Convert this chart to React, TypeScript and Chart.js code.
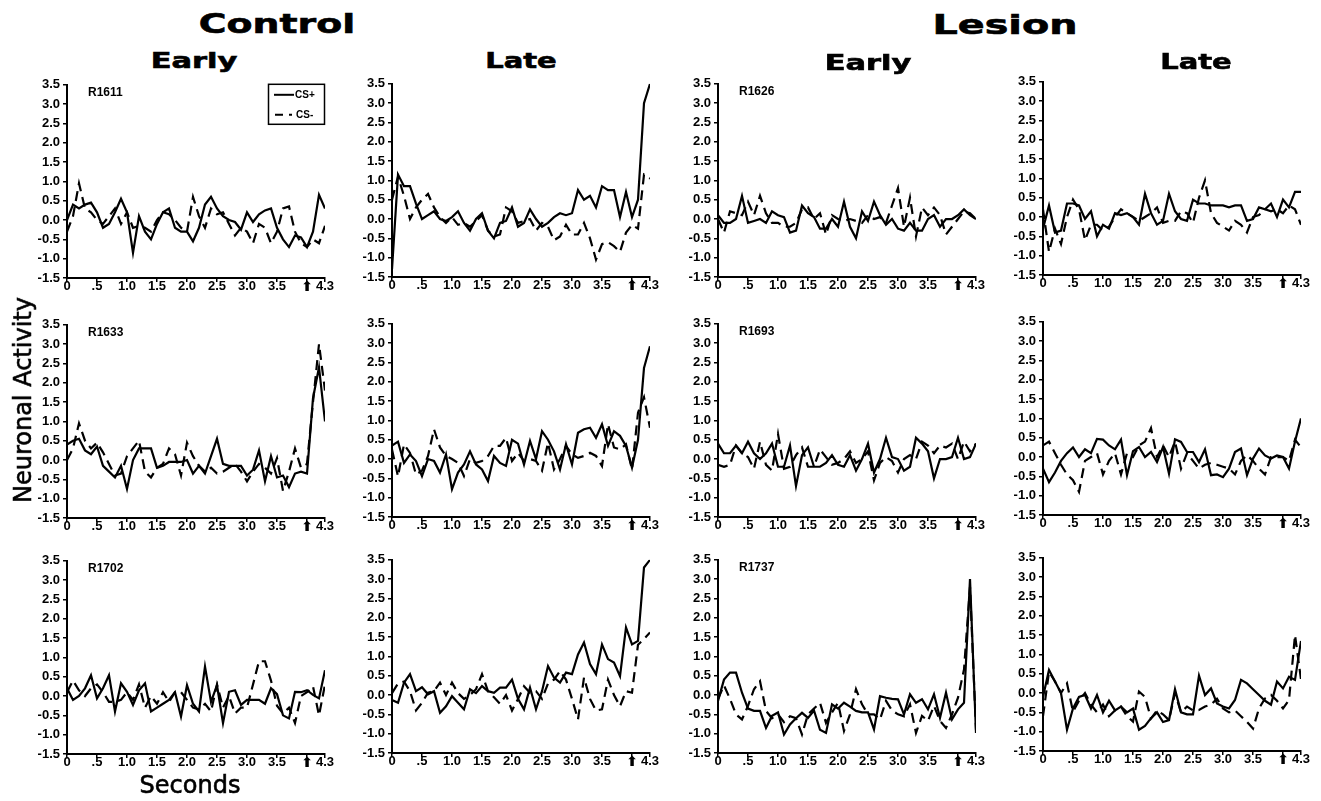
import React, { useEffect, useRef } from 'react';
import { Chart, registerables } from 'chart.js';

Chart.register(...registerables);

// ---------- data ----------
const TIMES = [0, 0.1, 0.2, 0.3, 0.4, 0.5, 0.6, 0.7, 0.8, 0.9, 1.0, 1.1, 1.2, 1.3, 1.4, 1.5, 1.6, 1.7, 1.8, 1.9, 2.0, 2.1, 2.2, 2.3, 2.4, 2.5, 2.6, 2.7, 2.8, 2.9, 3.0, 3.1, 3.2, 3.3, 3.4, 3.5, 3.6, 3.7, 3.8, 3.9, 4.0, 4.1, 4.2, 4.3];
const Y_TICKS = [-1.5, -1.0, -0.5, 0.0, 0.5, 1.0, 1.5, 2.0, 2.5, 3.0, 3.5];
const X_TICKS = [0, 0.5, 1.0, 1.5, 2.0, 2.5, 3.0, 3.5, 4.0, 4.3];
const X_TICK_LABELS = ['0', '.5', '1.0', '1.5', '2.0', '2.5', '3.0', '3.5', '⬆', '4.3'];

const GROUP_TITLES = ['Control', 'Lesion'];
const PHASE_TITLES = ['Early', 'Late', 'Early', 'Late'];
const SERIES_LABELS = ['CS+', 'CS-'];
const Y_TITLE = 'Neuronal Activity';
const X_TITLE = 'Seconds';

// Row 1
const R1611_EARLY_CSP = [0.0, 0.4, 0.3, 0.4, 0.45, 0.2, -0.2, -0.1, 0.2, 0.55, 0.2, -0.85, 0.1, -0.3, -0.5, -0.1, 0.2, 0.3, -0.2, -0.3, -0.3, -0.55, -0.2, 0.4, 0.6, 0.3, 0.1, 0.0, -0.05, -0.25, 0.2, -0.05, 0.15, 0.25, 0.3, -0.2, -0.5, -0.7, -0.4, -0.45, -0.7, -0.3, 0.65, 0.3];
const R1611_EARLY_CSM = [-0.3, 0.1, 0.95, 0.3, 0.2, 0.0, -0.1, 0.1, 0.3, -0.1, 0.2, -0.2, -0.15, -0.2, -0.3, 0.0, 0.2, 0.15, 0.0, -0.2, -0.3, 0.6, 0.1, -0.2, 0.3, 0.15, 0.2, -0.1, -0.4, -0.2, -0.3, -0.6, -0.1, -0.2, -0.6, -0.3, 0.3, 0.35, -0.3, -0.6, -0.7, -0.5, -0.6, -0.15];
const CTRL_LATE_1_CSP = [-1.3, 1.15, 0.85, 0.85, 0.4, 0.0, 0.1, 0.2, 0.0, -0.05, 0.05, 0.2, -0.1, -0.3, 0.0, 0.15, -0.3, -0.5, -0.1, -0.05, 0.3, -0.2, -0.1, 0.25, 0.0, -0.2, -0.1, 0.05, 0.15, 0.1, 0.15, 0.75, 0.5, 0.6, 0.3, 0.85, 0.75, 0.75, 0.05, 0.7, 0.05, 0.5, 3.0, 3.5];
const CTRL_LATE_1_CSM = [0.5, 1.1, 0.6, 0.0, 0.3, 0.5, 0.65, 0.3, 0.05, -0.1, 0.05, -0.15, -0.1, -0.2, -0.05, 0.1, -0.3, -0.45, -0.4, 0.3, 0.2, -0.1, -0.05, 0.0, -0.3, -0.1, -0.2, -0.55, -0.45, -0.15, -0.4, -0.4, -0.1, -0.5, -1.05, -0.65, -0.6, -0.7, -0.85, -0.35, -0.15, -0.25, 1.15, 1.05];
const R1626_EARLY_CSP = [0.1, -0.1, -0.1, 0.0, 0.6, -0.1, -0.05, 0.0, -0.1, 0.2, 0.1, 0.05, -0.35, -0.3, 0.35, 0.15, 0.05, -0.25, -0.25, 0.0, -0.2, 0.45, -0.2, -0.5, 0.2, -0.05, 0.45, 0.1, -0.15, 0.0, -0.25, -0.3, -0.1, -0.3, -0.3, 0.0, 0.1, -0.2, 0.0, 0.0, 0.1, 0.25, 0.1, 0.0];
const R1626_EARLY_CSM = [0.0, -0.35, 0.2, 0.15, 0.1, 0.45, 0.1, 0.6, 0.15, -0.1, -0.1, -0.2, -0.2, -0.1, 0.25, 0.3, 0.0, 0.15, -0.4, 0.1, 0.0, -0.05, 0.0, -0.05, -0.1, 0.1, 0.0, 0.05, -0.1, 0.35, 0.8, -0.2, 0.55, -0.45, 0.3, 0.1, 0.3, 0.1, -0.4, -0.2, 0.0, 0.2, 0.15, 0.0];
const LES_LATE_1_CSP = [-0.3, 0.3, -0.4, -0.35, 0.35, 0.35, 0.3, -0.05, 0.15, -0.5, -0.2, -0.3, 0.1, 0.05, 0.1, 0.0, -0.2, 0.6, 0.1, -0.2, -0.1, 0.6, 0.15, -0.05, -0.1, 0.45, 0.35, 0.35, 0.3, 0.3, 0.3, 0.25, 0.3, 0.3, -0.1, -0.05, 0.25, 0.2, 0.35, 0.0, 0.45, 0.25, 0.65, 0.65];
const LES_LATE_1_CSM = [0.2, -0.9, -0.3, -0.7, 0.0, 0.45, 0.2, -0.6, -0.2, -0.2, -0.35, -0.25, 0.0, 0.2, 0.1, 0.0, -0.1, 0.0, 0.1, 0.25, -0.15, -0.1, -0.1, 0.15, 0.1, -0.15, 0.5, 0.95, 0.1, -0.15, -0.25, -0.35, -0.1, -0.2, -0.4, 0.0, 0.05, 0.2, 0.15, 0.2, 0.1, 0.3, 0.2, -0.2];

// Row 2
const R1633_EARLY_CSP = [0.4, 0.5, 0.55, 0.25, 0.15, 0.35, -0.15, -0.3, -0.45, -0.15, -0.75, 0.0, 0.3, 0.3, 0.3, -0.2, -0.15, -0.05, -0.05, -0.05, 0.0, -0.35, -0.15, -0.35, 0.1, 0.55, -0.1, -0.15, -0.15, -0.15, -0.4, -0.25, 0.25, -0.55, 0.1, -0.45, -0.4, -0.7, -0.35, -0.3, -0.35, 1.6, 2.4, 1.0];
const R1633_EARLY_CSM = [0.0, 0.3, 0.95, 0.5, 0.3, 0.45, 0.2, -0.1, -0.4, -0.35, 0.1, 0.3, 0.5, -0.3, -0.45, -0.2, -0.1, 0.3, 0.15, -0.4, 0.45, 0.1, -0.15, -0.3, -0.2, -0.35, -0.3, -0.2, -0.1, -0.3, -0.55, -0.3, -0.1, -0.2, -0.35, 0.05, -0.8, -0.3, 0.3, -0.2, -0.1, 1.5, 3.0, 1.8];
const CTRL_LATE_2_CSP = [0.35, 0.45, -0.1, 0.12, -0.05, -0.44, 0.0, -0.05, -0.35, 0.12, -0.78, -0.35, -0.14, 0.2, -0.14, -0.27, -0.57, 0.08, -0.1, -0.18, 0.5, 0.4, -0.14, 0.47, 0.0, 0.72, 0.5, 0.2, -0.27, 0.38, -0.14, 0.68, 0.77, 0.81, 0.55, 0.9, 0.34, 0.72, 0.6, 0.34, -0.22, 0.5, 2.36, 2.92];
const CTRL_LATE_2_CSM = [0.25, -0.45, 0.38, 0.16, -0.4, -0.3, 0.08, 0.77, 0.3, 0.08, 0.0, -0.1, -0.44, 0.0, -0.1, -0.05, 0.08, 0.34, 0.34, 0.55, -0.05, 0.16, -0.05, 0.0, -0.05, -0.3, 0.42, -0.27, 0.0, 0.34, 0.12, 0.03, 0.08, 0.16, 0.08, -0.18, 0.9, 0.3, 0.25, 0.38, -0.27, 1.2, 1.6, 0.81];
const R1693_EARLY_CSP = [0.4, 0.15, 0.15, 0.35, 0.15, 0.45, 0.15, 0.0, 0.15, 0.4, -0.2, -0.2, 0.35, -0.7, 0.1, 0.3, -0.2, -0.2, -0.1, 0.1, -0.15, -0.2, 0.1, -0.3, 0.0, 0.4, -0.35, 0.0, 0.55, 0.05, 0.0, -0.3, -0.2, 0.55, 0.4, 0.2, -0.5, 0.0, 0.0, 0.05, 0.55, 0.0, 0.05, 0.4];
const R1693_EARLY_CSM = [-0.15, -0.2, -0.15, 0.35, 0.15, 0.05, -0.25, 0.45, -0.15, -0.3, 0.65, -0.25, -0.2, 0.1, 0.3, -0.2, -0.2, 0.25, 0.05, -0.15, -0.1, 0.0, 0.2, -0.1, 0.0, 0.2, -0.55, -0.1, 0.05, -0.05, -0.35, 0.0, 0.1, 0.0, 0.45, 0.35, 0.15, 0.35, 0.3, 0.4, 0.0, 0.45, 0.2, 0.4];
const LES_LATE_2_CSP = [-0.3, -0.65, -0.4, -0.1, 0.1, 0.25, 0.0, 0.2, 0.1, 0.47, 0.45, 0.3, 0.2, 0.45, -0.47, 0.15, 0.26, 0.0, 0.13, -0.13, 0.26, -0.43, 0.46, 0.39, 0.13, 0.13, -0.13, 0.2, -0.47, -0.45, -0.52, -0.3, 0.13, 0.22, -0.47, -0.04, 0.22, 0.04, -0.04, 0.04, 0.0, -0.3, 0.4, 1.0];
const LES_LATE_2_CSM = [0.3, 0.4, 0.1, -0.2, -0.45, -0.6, -0.9, -0.1, 0.0, 0.1, -0.45, -0.1, 0.1, -0.45, 0.1, 0.0, 0.3, 0.4, 0.75, 0.0, 0.3, 0.0, 0.4, -0.3, 0.1, -0.1, -0.3, -0.2, -0.15, -0.2, -0.25, -0.3, -0.45, -0.1, 0.05, -0.1, -0.3, -0.45, 0.0, 0.0, 0.0, -0.1, 0.45, 0.25];

// Row 3
const R1702_EARLY_CSP = [0.2, -0.1, 0.0, 0.2, 0.54, -0.06, 0.2, 0.54, -0.4, 0.33, 0.11, -0.23, 0.15, 0.33, -0.4, -0.3, -0.2, -0.1, 0.1, -0.53, 0.28, -0.2, -0.4, 0.76, -0.15, 0.28, -0.7, 0.11, 0.15, -0.23, -0.1, -0.1, -0.1, -0.2, 0.2, 0.05, -0.5, -0.58, 0.11, 0.1, 0.15, 0.03, -0.06, 0.67];
const R1702_EARLY_CSM = [0.1, 0.4, 0.15, 0.0, 0.2, 0.3, 0.1, -0.15, -0.15, -0.1, 0.1, -0.1, 0.3, -0.3, 0.0, -0.2, 0.1, -0.15, 0.1, 0.1, -0.1, -0.3, -0.35, -0.2, -0.4, 0.3, -0.3, 0.0, -0.45, -0.3, -0.3, 0.3, 0.9, 0.9, 0.4, -0.25, -0.45, -0.3, -0.7, 0.0, 0.1, 0.25, -0.5, 0.3];
const CTRL_LATE_3_CSP = [-0.13, -0.2, 0.32, 0.54, 0.1, 0.2, 0.02, 0.1, -0.46, -0.29, -0.03, -0.2, -0.37, 0.15, 0.05, 0.23, 0.1, 0.06, 0.19, 0.19, 0.4, -0.1, -0.37, 0.19, -0.37, 0.1, 0.75, 0.45, 0.32, 0.58, 0.54, 1.05, 1.36, 0.8, 0.54, 1.31, 0.93, 0.84, 0.49, 1.75, 1.31, 1.4, 3.3, 3.5];
const CTRL_LATE_3_CSM = [0.05, 0.3, 0.35, 0.1, -0.4, -0.2, 0.06, 0.1, 0.32, 0.0, 0.32, 0.05, -0.1, 0.0, 0.15, 0.54, 0.1, -0.06, -0.23, 0.0, -0.4, -0.1, 0.23, 0.06, 0.1, -0.1, 0.3, 0.4, 0.62, 0.4, -0.1, -0.63, 0.45, -0.1, -0.4, -0.37, 0.4, 0.0, -0.29, 0.1, 0.06, 1.3, 1.45, 1.62];
const R1737_EARLY_CSP = [-0.15, 0.4, 0.58, 0.58, 0.06, -0.35, -0.41, -0.41, -0.85, -0.54, -0.45, -1.02, -0.76, -0.6, -0.46, -0.59, -0.4, -0.9, -0.98, -0.24, -0.35, -0.2, -0.3, -0.41, -0.45, -0.45, -0.89, -0.03, -0.07, -0.1, -0.11, -0.5, 0.02, -0.2, -0.11, -0.37, 0.02, -0.59, 0.06, -0.63, -0.37, -0.2, 3.0, -0.98];
const R1737_EARLY_CSM = [-0.1, 0.25, -0.1, -0.5, -0.63, -0.28, 0.15, 0.36, -0.41, -0.6, -0.5, -0.7, -0.55, -0.6, -1.02, -0.5, -0.35, -0.2, -0.72, -0.45, -0.2, -0.93, -0.5, 0.15, -0.24, -0.5, -0.5, -0.63, -0.15, -0.4, -0.5, -0.55, -0.24, -0.98, -0.54, -0.67, -0.28, -0.67, -0.85, -0.5, -0.07, 0.66, 2.8, -0.9];
const LES_LATE_3_CSP = [-0.1, 0.6, 0.3, 0.0, -0.95, -0.4, -0.1, -0.05, -0.4, -0.05, -0.5, -0.2, -0.45, -0.35, -0.5, -0.4, -0.95, -0.85, -0.65, -0.5, -0.75, -0.7, 0.1, -0.5, -0.55, -0.55, 0.45, -0.05, 0.12, -0.27, -0.35, -0.4, -0.18, 0.34, 0.25, 0.1, -0.05, -0.2, -0.3, 0.3, 0.12, 0.42, 0.34, 1.35];
const LES_LATE_3_CSM = [-0.6, 0.55, 0.3, 0.0, 0.25, -0.48, -0.2, 0.0, -0.3, -0.5, -0.3, -0.6, -0.45, -0.35, -0.6, -0.74, 0.04, -0.1, -0.66, -0.45, -0.55, -0.7, 0.0, -0.5, -0.35, -0.45, -0.44, -0.35, -0.3, -0.15, -0.4, -0.5, -0.45, -0.6, -0.75, -0.92, -0.4, -0.14, -0.05, -0.2, -0.4, -0.18, 1.5, 0.35];

const PANELS = [
  { subject: 'R1611', csPlus: R1611_EARLY_CSP, csMinus: R1611_EARLY_CSM, legend: true },
  { subject: '', csPlus: CTRL_LATE_1_CSP, csMinus: CTRL_LATE_1_CSM, legend: false },
  { subject: 'R1626', csPlus: R1626_EARLY_CSP, csMinus: R1626_EARLY_CSM, legend: false },
  { subject: '', csPlus: LES_LATE_1_CSP, csMinus: LES_LATE_1_CSM, legend: false },
  { subject: 'R1633', csPlus: R1633_EARLY_CSP, csMinus: R1633_EARLY_CSM, legend: false },
  { subject: '', csPlus: CTRL_LATE_2_CSP, csMinus: CTRL_LATE_2_CSM, legend: false },
  { subject: 'R1693', csPlus: R1693_EARLY_CSP, csMinus: R1693_EARLY_CSM, legend: false },
  { subject: '', csPlus: LES_LATE_2_CSP, csMinus: LES_LATE_2_CSM, legend: false },
  { subject: 'R1702', csPlus: R1702_EARLY_CSP, csMinus: R1702_EARLY_CSM, legend: false },
  { subject: '', csPlus: CTRL_LATE_3_CSP, csMinus: CTRL_LATE_3_CSM, legend: false },
  { subject: 'R1737', csPlus: R1737_EARLY_CSP, csMinus: R1737_EARLY_CSM, legend: false },
  { subject: '', csPlus: LES_LATE_3_CSP, csMinus: LES_LATE_3_CSM, legend: false },
];

// ---------- layout ----------
const COL_LEFT = [67, 392, 718, 1043];
const COL_DY = [1, 0, 0, -2];
const ROW_TOP = [83, 323, 559];
const PLOT_W = 258;
const PLOT_H = 194;
const PAD_L = 5;
const PAD_R = 14;
const PAD_T = 10;
const Y_W = 40;
const X_H = 24;
const CANVAS_W = PAD_L + Y_W + PLOT_W + PAD_R;
const CANVAS_H = PAD_T + PLOT_H + X_H;
const DASH = [10, 6];
const TICK_FONT = { family: "'Liberation Sans', Arial, sans-serif", size: 13, weight: 'bold' as const };
const ARROW_FONT = { family: "'DejaVu Sans', sans-serif", size: 14, weight: 'bold' as const };

function Panel({ index }: { index: number }) {
  const ref = useRef<HTMLCanvasElement | null>(null);
  const col = index % 4;
  const row = Math.floor(index / 4);

  useEffect(() => {
    const p = PANELS[index];
    const overlay = {
      id: 'overlay' + index,
      afterDatasetsDraw(chart: any) {
        const { ctx, chartArea } = chart;
        ctx.save();
        ctx.fillStyle = '#000';
        if (p.subject) {
          ctx.font = "bold 12px 'Liberation Sans', Arial, sans-serif";
          ctx.textBaseline = 'middle';
          ctx.textAlign = 'left';
          ctx.fillText(p.subject, chartArea.left + 21, chartArea.top + 8);
        }
        if (p.legend) {
          const bx = chartArea.right - 57;
          const by = chartArea.top - 1;
          ctx.strokeStyle = '#000';
          ctx.lineWidth = 1.5;
          ctx.strokeRect(bx + 0.5, by + 0.5, 56, 40);
          ctx.lineWidth = 2;
          ctx.beginPath();
          ctx.moveTo(bx + 6, by + 11);
          ctx.lineTo(bx + 26, by + 11);
          ctx.stroke();
          ctx.setLineDash([8, 6]);
          ctx.beginPath();
          ctx.moveTo(bx + 7, by + 31);
          ctx.lineTo(bx + 24, by + 31);
          ctx.stroke();
          ctx.setLineDash([]);
          ctx.font = "bold 10px 'Liberation Sans', Arial, sans-serif";
          ctx.textBaseline = 'middle';
          ctx.textAlign = 'left';
          ctx.fillText(SERIES_LABELS[0], bx + 27, by + 11);
          ctx.fillText(SERIES_LABELS[1], bx + 28, by + 31);
        }
        ctx.restore();
      },
    };

    const chart = new Chart(ref.current as HTMLCanvasElement, {
      type: 'line',
      data: {
        datasets: [
          {
            label: SERIES_LABELS[0],
            data: p.csPlus.map((y, i) => ({ x: TIMES[i], y })),
            borderColor: '#000',
            borderWidth: 2.2,
            pointRadius: 0,
            tension: 0,
            fill: false,
          },
          {
            label: SERIES_LABELS[1],
            data: p.csMinus.map((y, i) => ({ x: TIMES[i], y })),
            borderColor: '#000',
            borderWidth: 2.2,
            borderDash: DASH,
            pointRadius: 0,
            tension: 0,
            fill: false,
          },
        ],
      },
      options: {
        animation: false,
        responsive: false,
        maintainAspectRatio: false,
        events: [],
        layout: { padding: { left: PAD_L, right: PAD_R, top: PAD_T, bottom: 0 } },
        plugins: { legend: { display: false }, tooltip: { enabled: false } },
        scales: {
          x: {
            type: 'linear',
            min: 0,
            max: 4.3,
            afterBuildTicks: (s: any) => {
              s.ticks = X_TICKS.map((v) => ({ value: v }));
            },
            afterFit: (s: any) => {
              s.height = X_H;
            },
            ticks: {
              autoSkip: false,
              maxRotation: 0,
              padding: -3,
              color: '#000',
              font: (c: any) => (c.tick && Math.abs(c.tick.value - 4) < 1e-6 ? ARROW_FONT : TICK_FONT),
              callback: (_v: any, i: number) => X_TICK_LABELS[i],
            },
            grid: { display: true, drawOnChartArea: false, drawTicks: true, tickLength: 4, color: '#000', lineWidth: 1.5 },
            border: { display: true, color: '#000', width: 2 },
          },
          y: {
            type: 'linear',
            min: -1.5,
            max: 3.5,
            afterBuildTicks: (s: any) => {
              s.ticks = Y_TICKS.map((v) => ({ value: v }));
            },
            afterFit: (s: any) => {
              s.width = Y_W;
            },
            ticks: {
              autoSkip: false,
              padding: 3,
              color: '#000',
              font: TICK_FONT,
              callback: (v: any) => Number(v).toFixed(1),
            },
            grid: { display: true, drawOnChartArea: false, drawTicks: true, tickLength: 4, color: '#000', lineWidth: 1.5 },
            border: { display: true, color: '#000', width: 2 },
          },
        },
      },
      plugins: [overlay],
    } as any);
    return () => chart.destroy();
  }, [index]);

  return (
    <canvas
      ref={ref}
      width={CANVAS_W}
      height={CANVAS_H}
      style={{
        position: 'absolute',
        left: COL_LEFT[col] - Y_W - PAD_L,
        top: ROW_TOP[row] + COL_DY[col] - PAD_T,
        width: CANVAS_W,
        height: CANVAS_H,
      }}
    />
  );
}

const titleBase: React.CSSProperties = {
  position: 'absolute',
  fontFamily: "'DejaVu Sans', sans-serif",
  fontWeight: 'bold',
  lineHeight: 1,
  whiteSpace: 'nowrap',
  color: '#000',
  WebkitTextStroke: '0.6px #000',
};

function Title({ text, cx, cy, size, sx }: { text: string; cx: number; cy: number; size: number; sx: number }) {
  return (
    <div style={{ ...titleBase, left: cx, top: cy, fontSize: size, transform: `translate(-50%, -50%) scaleX(${sx})` }}>
      {text}
    </div>
  );
}

const axisTitle: React.CSSProperties = {
  position: 'absolute',
  fontFamily: "'DejaVu Sans', sans-serif",
  fontSize: 24,
  lineHeight: 1,
  whiteSpace: 'nowrap',
  color: '#000',
  WebkitTextStroke: '0.6px #000',
};

export default function App() {
  return (
    <div style={{ position: 'absolute', left: 0, top: 0, width: 1321, height: 801, background: '#fff', overflow: 'hidden' }}>
      {PANELS.map((_, i) => (
        <Panel key={i} index={i} />
      ))}
      <Title text={GROUP_TITLES[0]} cx={277} cy={23} size={27} sx={1.4} />
      <Title text={GROUP_TITLES[1]} cx={1005} cy={24} size={27} sx={1.47} />
      <Title text={PHASE_TITLES[0]} cx={194} cy={61} size={21} sx={1.45} />
      <Title text={PHASE_TITLES[1]} cx={521} cy={61} size={21} sx={1.38} />
      <Title text={PHASE_TITLES[2]} cx={868} cy={63} size={21} sx={1.45} />
      <Title text={PHASE_TITLES[3]} cx={1196} cy={62} size={21} sx={1.38} />
      <div style={{ ...axisTitle, left: 23, top: 400, transform: 'translate(-50%, -50%) rotate(-90deg)' }}>{Y_TITLE}</div>
      <div style={{ ...axisTitle, left: 190, top: 785, transform: 'translate(-50%, -50%)' }}>{X_TITLE}</div>
    </div>
  );
}
